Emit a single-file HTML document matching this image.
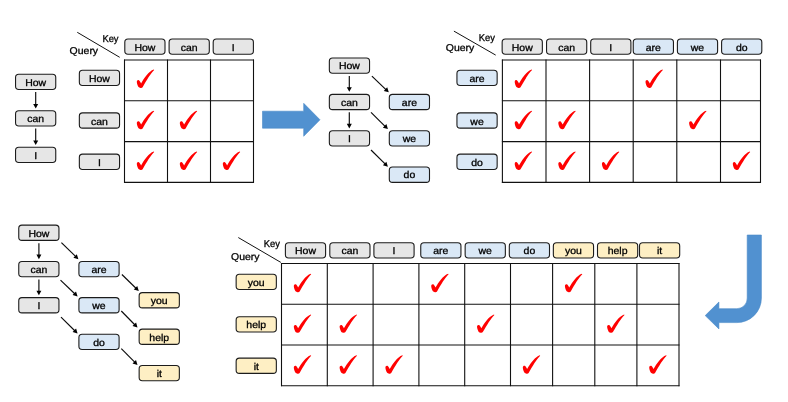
<!DOCTYPE html>
<html><head><meta charset="utf-8"><title>Tree attention mask</title>
<style>html,body{margin:0;padding:0;background:#fff;}svg{display:block;}text{fill:#000;stroke:#000;stroke-width:0.3px;text-rendering:geometricPrecision;}</style></head>
<body><svg width="788" height="402" viewBox="0 0 788 402" font-family="Liberation Sans, sans-serif">
<defs><symbol id="ck" overflow="visible"><path transform="scale(0.0847) translate(-78,-90)" d="M 82,240 C 80,222 92,212 106,216 C 116,220 122,236 132,254 C 166,194 222,110 282,90 L 287,96 C 244,136 196,220 152,296 C 144,310 112,312 102,298 C 92,280 84,258 82,240 Z" fill="#ff0000"/></symbol></defs>
<rect width="788" height="402" fill="#fff"/>
<g style="opacity:0.999">
<rect x="15.55" y="74.25" width="40.2" height="15.3" rx="3.2" fill="#e6e6e6" stroke="#1c1c1c" stroke-width="1.1"/>
<text transform="translate(35.65,85.65) scale(1.06,1)" text-anchor="middle" font-size="9.9">How</text>
<rect x="15.55" y="110.75" width="40.2" height="15.3" rx="3.2" fill="#e6e6e6" stroke="#1c1c1c" stroke-width="1.1"/>
<text transform="translate(35.65,122.15) scale(1.06,1)" text-anchor="middle" font-size="9.9">can</text>
<rect x="15.55" y="147.25" width="40.2" height="15.3" rx="3.2" fill="#e6e6e6" stroke="#1c1c1c" stroke-width="1.1"/>
<text transform="translate(35.65,158.65) scale(1.06,1)" text-anchor="middle" font-size="9.9">I</text>
<line x1="35.70" y1="92.10" x2="35.70" y2="105.00" stroke="#0a0a0a" stroke-width="1.15"/>
<polygon points="35.70,108.60 33.20,104.00 38.20,104.00" fill="#000"/>
<line x1="35.70" y1="128.60" x2="35.70" y2="141.50" stroke="#0a0a0a" stroke-width="1.15"/>
<polygon points="35.70,145.10 33.20,140.50 38.20,140.50" fill="#000"/>
<line x1="124.5" y1="59.5" x2="124.5" y2="182.9" stroke="#111" stroke-width="1.1"/>
<line x1="167.5" y1="59.5" x2="167.5" y2="182.9" stroke="#111" stroke-width="1.1"/>
<line x1="210.5" y1="59.5" x2="210.5" y2="182.9" stroke="#111" stroke-width="1.1"/>
<line x1="253.5" y1="59.5" x2="253.5" y2="182.9" stroke="#111" stroke-width="1.1"/>
<line x1="124.0" y1="60" x2="254.0" y2="60" stroke="#111" stroke-width="1.1"/>
<line x1="124.0" y1="100.8" x2="254.0" y2="100.8" stroke="#111" stroke-width="1.1"/>
<line x1="124.0" y1="141.6" x2="254.0" y2="141.6" stroke="#111" stroke-width="1.1"/>
<line x1="124.0" y1="182.4" x2="254.0" y2="182.4" stroke="#111" stroke-width="1.1"/>
<rect x="124.80" y="38.95" width="40.2" height="15.3" rx="3.2" fill="#e6e6e6" stroke="#1c1c1c" stroke-width="1.1"/>
<text transform="translate(144.90,50.80) scale(1.06,1)" text-anchor="middle" font-size="9.9">How</text>
<rect x="169.10" y="38.95" width="40.2" height="15.3" rx="3.2" fill="#e6e6e6" stroke="#1c1c1c" stroke-width="1.1"/>
<text transform="translate(189.20,50.80) scale(1.06,1)" text-anchor="middle" font-size="9.9">can</text>
<rect x="213.20" y="38.95" width="40.2" height="15.3" rx="3.2" fill="#e6e6e6" stroke="#1c1c1c" stroke-width="1.1"/>
<text transform="translate(233.30,50.80) scale(1.06,1)" text-anchor="middle" font-size="9.9">I</text>
<rect x="79.35" y="70.25" width="40.2" height="15.3" rx="3.2" fill="#e6e6e6" stroke="#1c1c1c" stroke-width="1.1"/>
<text transform="translate(99.45,81.90) scale(1.06,1)" text-anchor="middle" font-size="9.9">How</text>
<rect x="79.35" y="112.85" width="40.2" height="15.3" rx="3.2" fill="#e6e6e6" stroke="#1c1c1c" stroke-width="1.1"/>
<text transform="translate(99.45,124.50) scale(1.06,1)" text-anchor="middle" font-size="9.9">can</text>
<rect x="79.35" y="154.15" width="40.2" height="15.3" rx="3.2" fill="#e6e6e6" stroke="#1c1c1c" stroke-width="1.1"/>
<text transform="translate(99.45,165.80) scale(1.06,1)" text-anchor="middle" font-size="9.9">I</text>
<text transform="translate(102.4,41.7) scale(0.95,1)" font-size="9.9">Key</text>
<text transform="translate(69.6,53.6) scale(1.06,1)" font-size="9.9">Query</text>
<line x1="77.25" y1="32.3" x2="119.7" y2="57.3" stroke="#111" stroke-width="1.0"/>
<use href="#ck" x="136.50" y="69.50"/>
<use href="#ck" x="136.50" y="110.70"/>
<use href="#ck" x="179.50" y="110.70"/>
<use href="#ck" x="136.50" y="151.50"/>
<use href="#ck" x="179.50" y="151.50"/>
<use href="#ck" x="222.50" y="151.50"/>
<polygon points="262.5,111.2 303.7,111.2 303.7,103.3 320,119.8 303.7,136.3 303.7,128.2 262.5,128.2" fill="#5191d0" stroke="#4a89c8" stroke-width="0.6"/>
<rect x="329.35" y="57.95" width="40.2" height="15.3" rx="3.2" fill="#e6e6e6" stroke="#1c1c1c" stroke-width="1.1"/>
<text transform="translate(349.45,69.35) scale(1.06,1)" text-anchor="middle" font-size="9.9">How</text>
<rect x="329.35" y="94.35" width="40.2" height="15.3" rx="3.2" fill="#e6e6e6" stroke="#1c1c1c" stroke-width="1.1"/>
<text transform="translate(349.45,105.75) scale(1.06,1)" text-anchor="middle" font-size="9.9">can</text>
<rect x="329.35" y="130.75" width="40.2" height="15.3" rx="3.2" fill="#e6e6e6" stroke="#1c1c1c" stroke-width="1.1"/>
<text transform="translate(349.45,142.15) scale(1.06,1)" text-anchor="middle" font-size="9.9">I</text>
<rect x="389.30" y="94.35" width="40.2" height="15.3" rx="3.2" fill="#dae8f6" stroke="#1c1c1c" stroke-width="1.1"/>
<text transform="translate(409.40,105.75) scale(1.06,1)" text-anchor="middle" font-size="9.9">are</text>
<rect x="389.30" y="130.75" width="40.2" height="15.3" rx="3.2" fill="#dae8f6" stroke="#1c1c1c" stroke-width="1.1"/>
<text transform="translate(409.40,142.15) scale(1.06,1)" text-anchor="middle" font-size="9.9">we</text>
<rect x="389.30" y="167.05" width="40.2" height="15.3" rx="3.2" fill="#dae8f6" stroke="#1c1c1c" stroke-width="1.1"/>
<text transform="translate(409.40,178.45) scale(1.06,1)" text-anchor="middle" font-size="9.9">do</text>
<line x1="349.30" y1="76.10" x2="349.30" y2="88.20" stroke="#0a0a0a" stroke-width="1.15"/>
<polygon points="349.30,91.80 346.80,87.20 351.80,87.20" fill="#000"/>
<line x1="349.30" y1="112.30" x2="349.30" y2="124.80" stroke="#0a0a0a" stroke-width="1.15"/>
<polygon points="349.30,128.40 346.80,123.80 351.80,123.80" fill="#000"/>
<line x1="371.90" y1="76.10" x2="386.20" y2="89.81" stroke="#0a0a0a" stroke-width="1.15"/>
<polygon points="388.80,92.30 383.75,90.92 387.21,87.31" fill="#000"/>
<line x1="371.00" y1="112.30" x2="385.35" y2="126.56" stroke="#0a0a0a" stroke-width="1.15"/>
<polygon points="387.90,129.10 382.88,127.63 386.40,124.08" fill="#000"/>
<line x1="371.00" y1="150.00" x2="385.34" y2="164.17" stroke="#0a0a0a" stroke-width="1.15"/>
<polygon points="387.90,166.70 382.87,165.24 386.39,161.69" fill="#000"/>
<line x1="502.4" y1="59.5" x2="502.4" y2="182.9" stroke="#111" stroke-width="1.1"/>
<line x1="546" y1="59.5" x2="546" y2="182.9" stroke="#111" stroke-width="1.1"/>
<line x1="589.6" y1="59.5" x2="589.6" y2="182.9" stroke="#111" stroke-width="1.1"/>
<line x1="633.2" y1="59.5" x2="633.2" y2="182.9" stroke="#111" stroke-width="1.1"/>
<line x1="676.8" y1="59.5" x2="676.8" y2="182.9" stroke="#111" stroke-width="1.1"/>
<line x1="720.5" y1="59.5" x2="720.5" y2="182.9" stroke="#111" stroke-width="1.1"/>
<line x1="760.5" y1="59.5" x2="760.5" y2="182.9" stroke="#111" stroke-width="1.1"/>
<line x1="501.9" y1="60" x2="761.0" y2="60" stroke="#111" stroke-width="1.1"/>
<line x1="501.9" y1="100.8" x2="761.0" y2="100.8" stroke="#111" stroke-width="1.1"/>
<line x1="501.9" y1="141.6" x2="761.0" y2="141.6" stroke="#111" stroke-width="1.1"/>
<line x1="501.9" y1="182.4" x2="761.0" y2="182.4" stroke="#111" stroke-width="1.1"/>
<rect x="502.15" y="38.95" width="40.2" height="15.3" rx="3.2" fill="#e6e6e6" stroke="#1c1c1c" stroke-width="1.1"/>
<text transform="translate(522.25,50.80) scale(1.06,1)" text-anchor="middle" font-size="9.9">How</text>
<rect x="546.55" y="38.95" width="40.2" height="15.3" rx="3.2" fill="#e6e6e6" stroke="#1c1c1c" stroke-width="1.1"/>
<text transform="translate(566.65,50.80) scale(1.06,1)" text-anchor="middle" font-size="9.9">can</text>
<rect x="590.70" y="38.95" width="40.2" height="15.3" rx="3.2" fill="#e6e6e6" stroke="#1c1c1c" stroke-width="1.1"/>
<text transform="translate(610.80,50.80) scale(1.06,1)" text-anchor="middle" font-size="9.9">I</text>
<rect x="633.25" y="38.95" width="40.2" height="15.3" rx="3.2" fill="#dae8f6" stroke="#1c1c1c" stroke-width="1.1"/>
<text transform="translate(653.35,50.80) scale(1.06,1)" text-anchor="middle" font-size="9.9">are</text>
<rect x="677.40" y="38.95" width="40.2" height="15.3" rx="3.2" fill="#dae8f6" stroke="#1c1c1c" stroke-width="1.1"/>
<text transform="translate(697.50,50.80) scale(1.06,1)" text-anchor="middle" font-size="9.9">we</text>
<rect x="721.60" y="38.95" width="40.2" height="15.3" rx="3.2" fill="#dae8f6" stroke="#1c1c1c" stroke-width="1.1"/>
<text transform="translate(741.70,50.80) scale(1.06,1)" text-anchor="middle" font-size="9.9">do</text>
<rect x="456.95" y="70.25" width="40.2" height="15.3" rx="3.2" fill="#dae8f6" stroke="#1c1c1c" stroke-width="1.1"/>
<text transform="translate(477.05,81.90) scale(1.06,1)" text-anchor="middle" font-size="9.9">are</text>
<rect x="456.95" y="112.85" width="40.2" height="15.3" rx="3.2" fill="#dae8f6" stroke="#1c1c1c" stroke-width="1.1"/>
<text transform="translate(477.05,124.50) scale(1.06,1)" text-anchor="middle" font-size="9.9">we</text>
<rect x="456.95" y="154.15" width="40.2" height="15.3" rx="3.2" fill="#dae8f6" stroke="#1c1c1c" stroke-width="1.1"/>
<text transform="translate(477.05,165.80) scale(1.06,1)" text-anchor="middle" font-size="9.9">do</text>
<text transform="translate(478.8,40.6) scale(0.95,1)" font-size="9.9">Key</text>
<text transform="translate(445.8,51.3) scale(1.06,1)" font-size="9.9">Query</text>
<line x1="453.9" y1="31.1" x2="495.7" y2="55.1" stroke="#111" stroke-width="1.0"/>
<use href="#ck" x="514.40" y="69.50"/>
<use href="#ck" x="645.20" y="69.50"/>
<use href="#ck" x="514.40" y="110.70"/>
<use href="#ck" x="558.00" y="110.70"/>
<use href="#ck" x="688.80" y="110.70"/>
<use href="#ck" x="514.40" y="151.50"/>
<use href="#ck" x="558.00" y="151.50"/>
<use href="#ck" x="601.60" y="151.50"/>
<use href="#ck" x="732.50" y="151.50"/>
<rect x="18.75" y="225.10" width="40.2" height="15.3" rx="3.2" fill="#e6e6e6" stroke="#1c1c1c" stroke-width="1.1"/>
<text transform="translate(38.85,236.50) scale(1.06,1)" text-anchor="middle" font-size="9.9">How</text>
<rect x="18.75" y="261.45" width="40.2" height="15.3" rx="3.2" fill="#e6e6e6" stroke="#1c1c1c" stroke-width="1.1"/>
<text transform="translate(38.85,272.85) scale(1.06,1)" text-anchor="middle" font-size="9.9">can</text>
<rect x="18.75" y="297.60" width="40.2" height="15.3" rx="3.2" fill="#e6e6e6" stroke="#1c1c1c" stroke-width="1.1"/>
<text transform="translate(38.85,309.00) scale(1.06,1)" text-anchor="middle" font-size="9.9">I</text>
<rect x="78.90" y="261.45" width="40.2" height="15.3" rx="3.2" fill="#dae8f6" stroke="#1c1c1c" stroke-width="1.1"/>
<text transform="translate(99.00,272.85) scale(1.06,1)" text-anchor="middle" font-size="9.9">are</text>
<rect x="78.90" y="297.60" width="40.2" height="15.3" rx="3.2" fill="#dae8f6" stroke="#1c1c1c" stroke-width="1.1"/>
<text transform="translate(99.00,309.00) scale(1.06,1)" text-anchor="middle" font-size="9.9">we</text>
<rect x="78.90" y="334.25" width="40.2" height="15.3" rx="3.2" fill="#dae8f6" stroke="#1c1c1c" stroke-width="1.1"/>
<text transform="translate(99.00,345.65) scale(1.06,1)" text-anchor="middle" font-size="9.9">do</text>
<rect x="139.15" y="292.60" width="40.2" height="15.3" rx="3.2" fill="#feefc4" stroke="#1c1c1c" stroke-width="1.1"/>
<text transform="translate(159.25,304.00) scale(1.06,1)" text-anchor="middle" font-size="9.9">you</text>
<rect x="139.15" y="329.10" width="40.2" height="15.3" rx="3.2" fill="#feefc4" stroke="#1c1c1c" stroke-width="1.1"/>
<text transform="translate(159.25,340.50) scale(1.06,1)" text-anchor="middle" font-size="9.9">help</text>
<rect x="139.15" y="365.50" width="40.2" height="15.3" rx="3.2" fill="#feefc4" stroke="#1c1c1c" stroke-width="1.1"/>
<text transform="translate(159.25,376.90) scale(1.06,1)" text-anchor="middle" font-size="9.9">it</text>
<line x1="38.90" y1="243.20" x2="38.90" y2="255.60" stroke="#0a0a0a" stroke-width="1.15"/>
<polygon points="38.90,259.20 36.40,254.60 41.40,254.60" fill="#000"/>
<line x1="38.90" y1="279.50" x2="38.90" y2="291.70" stroke="#0a0a0a" stroke-width="1.15"/>
<polygon points="38.90,295.30 36.40,290.70 41.40,290.70" fill="#000"/>
<line x1="61.40" y1="242.60" x2="75.82" y2="256.68" stroke="#0a0a0a" stroke-width="1.15"/>
<polygon points="78.40,259.20 73.36,257.77 76.86,254.20" fill="#000"/>
<line x1="60.50" y1="280.10" x2="75.00" y2="294.01" stroke="#0a0a0a" stroke-width="1.15"/>
<polygon points="77.60,296.50 72.55,295.12 76.01,291.51" fill="#000"/>
<line x1="61.00" y1="317.10" x2="75.04" y2="330.97" stroke="#0a0a0a" stroke-width="1.15"/>
<polygon points="77.60,333.50 72.57,332.05 76.08,328.49" fill="#000"/>
<line x1="121.90" y1="274.50" x2="136.22" y2="288.49" stroke="#0a0a0a" stroke-width="1.15"/>
<polygon points="138.80,291.00 133.76,289.58 137.26,286.00" fill="#000"/>
<line x1="121.30" y1="311.00" x2="134.99" y2="325.02" stroke="#0a0a0a" stroke-width="1.15"/>
<polygon points="137.50,327.60 132.50,326.05 136.08,322.56" fill="#000"/>
<line x1="121.30" y1="348.70" x2="134.95" y2="362.35" stroke="#0a0a0a" stroke-width="1.15"/>
<polygon points="137.50,364.90 132.48,363.42 136.02,359.88" fill="#000"/>
<line x1="281.5" y1="263.0" x2="281.5" y2="386.2" stroke="#111" stroke-width="1.1"/>
<line x1="327.3" y1="263.0" x2="327.3" y2="386.2" stroke="#111" stroke-width="1.1"/>
<line x1="373.1" y1="263.0" x2="373.1" y2="386.2" stroke="#111" stroke-width="1.1"/>
<line x1="418.9" y1="263.0" x2="418.9" y2="386.2" stroke="#111" stroke-width="1.1"/>
<line x1="464.7" y1="263.0" x2="464.7" y2="386.2" stroke="#111" stroke-width="1.1"/>
<line x1="510.5" y1="263.0" x2="510.5" y2="386.2" stroke="#111" stroke-width="1.1"/>
<line x1="552.6" y1="263.0" x2="552.6" y2="386.2" stroke="#111" stroke-width="1.1"/>
<line x1="594.8" y1="263.0" x2="594.8" y2="386.2" stroke="#111" stroke-width="1.1"/>
<line x1="636.9" y1="263.0" x2="636.9" y2="386.2" stroke="#111" stroke-width="1.1"/>
<line x1="679.0" y1="263.0" x2="679.0" y2="386.2" stroke="#111" stroke-width="1.1"/>
<line x1="281.0" y1="263.5" x2="679.5" y2="263.5" stroke="#111" stroke-width="1.1"/>
<line x1="281.0" y1="304.2" x2="679.5" y2="304.2" stroke="#111" stroke-width="1.1"/>
<line x1="281.0" y1="345" x2="679.5" y2="345" stroke="#111" stroke-width="1.1"/>
<line x1="281.0" y1="385.7" x2="679.5" y2="385.7" stroke="#111" stroke-width="1.1"/>
<rect x="285.40" y="242.75" width="40.2" height="15.3" rx="3.2" fill="#e6e6e6" stroke="#1c1c1c" stroke-width="1.1"/>
<text transform="translate(305.50,253.85) scale(1.06,1)" text-anchor="middle" font-size="9.9">How</text>
<rect x="329.80" y="242.75" width="40.2" height="15.3" rx="3.2" fill="#e6e6e6" stroke="#1c1c1c" stroke-width="1.1"/>
<text transform="translate(349.90,253.85) scale(1.06,1)" text-anchor="middle" font-size="9.9">can</text>
<rect x="373.90" y="242.75" width="40.2" height="15.3" rx="3.2" fill="#e6e6e6" stroke="#1c1c1c" stroke-width="1.1"/>
<text transform="translate(394.00,253.85) scale(1.06,1)" text-anchor="middle" font-size="9.9">I</text>
<rect x="420.75" y="242.75" width="40.2" height="15.3" rx="3.2" fill="#dae8f6" stroke="#1c1c1c" stroke-width="1.1"/>
<text transform="translate(440.85,253.85) scale(1.06,1)" text-anchor="middle" font-size="9.9">are</text>
<rect x="465.15" y="242.75" width="40.2" height="15.3" rx="3.2" fill="#dae8f6" stroke="#1c1c1c" stroke-width="1.1"/>
<text transform="translate(485.25,253.85) scale(1.06,1)" text-anchor="middle" font-size="9.9">we</text>
<rect x="509.30" y="242.75" width="40.2" height="15.3" rx="3.2" fill="#dae8f6" stroke="#1c1c1c" stroke-width="1.1"/>
<text transform="translate(529.40,253.85) scale(1.06,1)" text-anchor="middle" font-size="9.9">do</text>
<rect x="553.35" y="242.75" width="40.2" height="15.3" rx="3.2" fill="#feefc4" stroke="#1c1c1c" stroke-width="1.1"/>
<text transform="translate(573.45,253.85) scale(1.06,1)" text-anchor="middle" font-size="9.9">you</text>
<rect x="597.50" y="242.75" width="40.2" height="15.3" rx="3.2" fill="#feefc4" stroke="#1c1c1c" stroke-width="1.1"/>
<text transform="translate(617.60,253.85) scale(1.06,1)" text-anchor="middle" font-size="9.9">help</text>
<rect x="639.50" y="242.75" width="40.2" height="15.3" rx="3.2" fill="#feefc4" stroke="#1c1c1c" stroke-width="1.1"/>
<text transform="translate(659.60,253.85) scale(1.06,1)" text-anchor="middle" font-size="9.9">it</text>
<rect x="236.15" y="274.20" width="40.2" height="15.3" rx="3.2" fill="#feefc4" stroke="#1c1c1c" stroke-width="1.1"/>
<text transform="translate(256.25,285.85) scale(1.06,1)" text-anchor="middle" font-size="9.9">you</text>
<rect x="236.15" y="316.70" width="40.2" height="15.3" rx="3.2" fill="#feefc4" stroke="#1c1c1c" stroke-width="1.1"/>
<text transform="translate(256.25,328.35) scale(1.06,1)" text-anchor="middle" font-size="9.9">help</text>
<rect x="236.15" y="358.10" width="40.2" height="15.3" rx="3.2" fill="#feefc4" stroke="#1c1c1c" stroke-width="1.1"/>
<text transform="translate(256.25,369.75) scale(1.06,1)" text-anchor="middle" font-size="9.9">it</text>
<text transform="translate(263.8,247.4) scale(0.95,1)" font-size="9.9">Key</text>
<text transform="translate(231,259.6) scale(1.06,1)" font-size="9.9">Query</text>
<line x1="238.3" y1="237.55" x2="280.85" y2="262.4" stroke="#111" stroke-width="1.0"/>
<use href="#ck" x="293.50" y="273.70"/>
<use href="#ck" x="430.90" y="273.70"/>
<use href="#ck" x="564.60" y="273.70"/>
<use href="#ck" x="293.50" y="314.40"/>
<use href="#ck" x="339.30" y="314.40"/>
<use href="#ck" x="476.70" y="314.40"/>
<use href="#ck" x="606.80" y="314.40"/>
<use href="#ck" x="293.50" y="355.20"/>
<use href="#ck" x="339.30" y="355.20"/>
<use href="#ck" x="385.10" y="355.20"/>
<use href="#ck" x="522.50" y="355.20"/>
<use href="#ck" x="648.90" y="355.20"/>
<path d="M747.2,235 L761.4,235 L761.4,298 A24.5,24.5 0 0 1 736.9,322.6 L718.9,322.6 L718.9,328.9 L705.2,315.6 L718.9,302 L718.9,308.7 L736.9,308.7 A10.3,10.3 0 0 0 747.2,298 Z" fill="#5191d0" stroke="#4a89c8" stroke-width="0.6"/>
</g>
</svg></body></html>
